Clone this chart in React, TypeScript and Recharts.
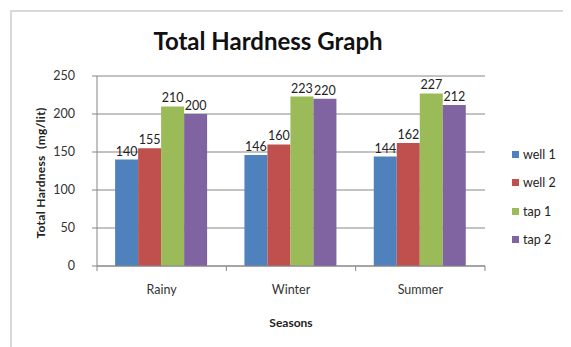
import React from 'react';
import { BarChart, Bar, XAxis, YAxis, CartesianGrid, Legend, LabelList } from 'recharts';

const seasons = ['Rainy', 'Winter', 'Summer'];
const well1 = [140, 146, 144];
const well2 = [155, 160, 162];
const tap1 = [210, 223, 227];
const tap2 = [200, 220, 212];
const yTicks = [0, 50, 100, 150, 200, 250];

const seriesDefs = [
  { key: 'well1', name: 'well 1', values: well1, color: '#4F81BD' },
  { key: 'well2', name: 'well 2', values: well2, color: '#C0504D' },
  { key: 'tap1', name: 'tap 1', values: tap1, color: '#9BBB59' },
  { key: 'tap2', name: 'tap 2', values: tap2, color: '#8064A2' },
];

const data = seasons.map((s, i) => {
  const row: any = { season: s };
  seriesDefs.forEach((d) => { row[d.key] = d.values[i]; });
  return row;
});

const FONT = 'Lato, "Open Sans", sans-serif';
const GRID = '#868686';

const XTick = (props: any) => {
  const { x, y, payload, index } = props;
  const half = payload && typeof payload.offset === 'number' ? payload.offset : 64.7;
  const axisY = y - 19;
  return (
    <g>
      <line x1={x - half} x2={x - half} y1={axisY} y2={axisY + 5} stroke={GRID} />
      {index === seasons.length - 1 && (
        <line x1={x + half} x2={x + half} y1={axisY} y2={axisY + 5} stroke={GRID} />
      )}
      <text x={x} y={y} dy="0.71em" textAnchor="middle" fontSize={12.5} fill="#333" fontFamily={FONT}>
        {payload.value}
      </text>
    </g>
  );
};

const YLabel = (props: any) => {
  const vb = props.viewBox || {};
  const cx = vb.x + 13;
  const cy = vb.y + vb.height / 2 + 2;
  return (
    <text x={cx} y={cy} transform={`rotate(-90 ${cx} ${cy})`} textAnchor="middle" dominantBaseline="central"
      fontSize={12} fontWeight="bold" fill="#222" fontFamily={FONT} style={{ whiteSpace: 'pre' }} letterSpacing={0.3}>
      {'Total Hardness  (mg/lit)'}
    </text>
  );
};

const XLabel = (props: any) => {
  const vb = props.viewBox || {};
  const cx = vb.x + vb.width / 2;
  return (
    <text x={cx} y={vb.y + 56} textAnchor="middle" dominantBaseline="central"
      fontSize={12} fontWeight="bold" fill="#222" fontFamily={FONT}>
      Seasons
    </text>
  );
};

const LegendContent = () => (
  <div style={{ fontFamily: FONT, fontSize: 12.5, color: '#222' }}>
    {seriesDefs.map((d) => (
      <div key={d.key} style={{ height: 28.5, display: 'flex', alignItems: 'center' }}>
        <span style={{ display: 'inline-block', width: 7, height: 7, background: d.color, marginRight: 4 }} />
        <span>{d.name}</span>
      </div>
    ))}
  </div>
);

export default function App() {
  return (
    <div style={{ position: 'relative', width: 563, height: 339, overflow: 'hidden', background: '#fff', fontFamily: FONT }}>
      <div style={{ position: 'absolute', left: 2, top: 2, width: 700, height: 500, border: '2px solid #d9d9d9', boxSizing: 'border-box' }} />
      <div style={{ position: 'absolute', left: 0, width: 520, top: 19, textAlign: 'center', fontSize: 24, fontWeight: 'bold', color: '#111', lineHeight: '28px' }}>
        Total Hardness Graph
      </div>
      <div style={{ position: 'absolute', left: 0, top: 0 }}>
        <BarChart width={563} height={339} data={data}
          margin={{ top: 68, right: 86, bottom: 17, left: 19 }}
          barCategoryGap="14%" barGap={0}>
          <CartesianGrid vertical={false} stroke={GRID} />
          <XAxis dataKey="season" height={64} stroke={GRID} tickLine={false} tickSize={5} tickMargin={14}
            tick={<XTick />} label={<XLabel />} interval={0} />
          <YAxis width={70} domain={[0, 250]} ticks={yTicks} stroke={GRID} tickSize={5} tickMargin={17}
            tick={{ fill: '#333', fontSize: 12.5, fontFamily: FONT }} label={<YLabel />} />
          <Legend layout="vertical" align="center" verticalAlign="middle" content={<LegendContent />}
            wrapperStyle={{ position: 'absolute', left: 504, top: 132, width: 60 }} />
          {seriesDefs.map((d) => (
            <Bar key={d.key} dataKey={d.key} name={d.name} fill={d.color} isAnimationActive={false}>
              <LabelList dataKey={d.key} position="top" offset={4} fill="#222" fontSize={12.5} fontFamily={FONT} />
            </Bar>
          ))}
        </BarChart>
      </div>
    </div>
  );
}
